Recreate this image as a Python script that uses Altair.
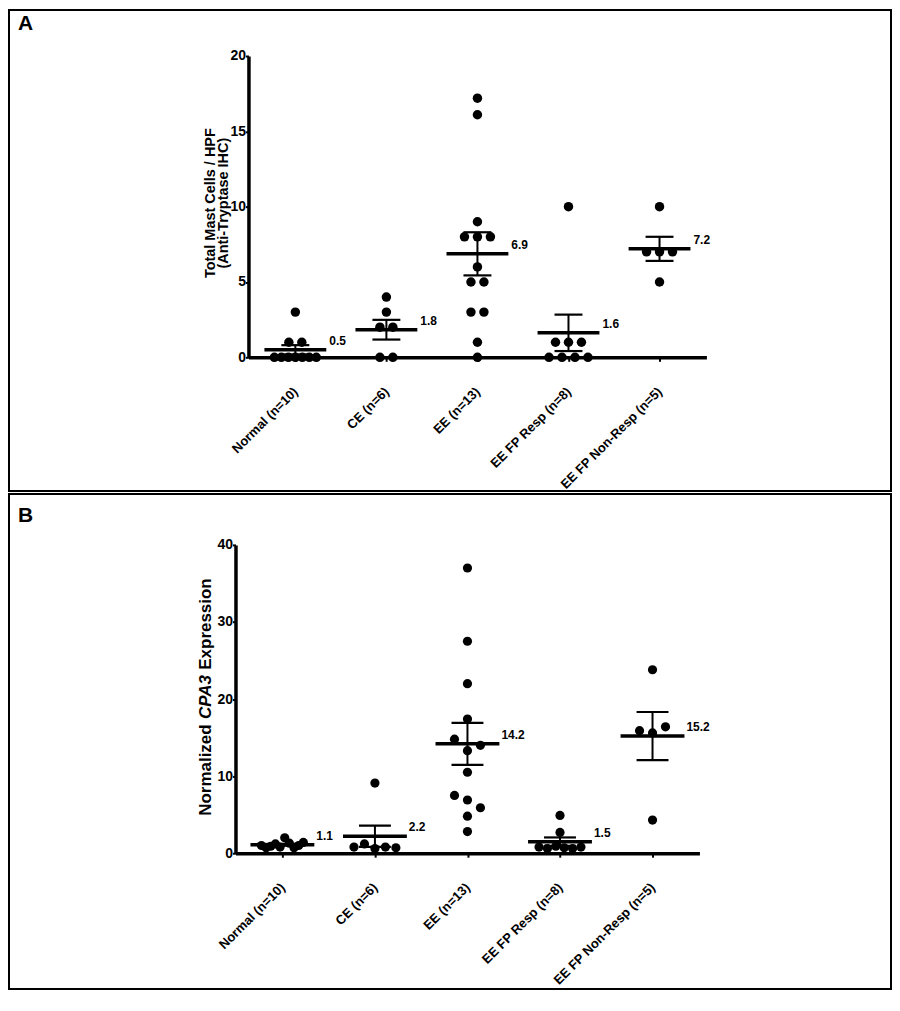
import json
import numpy as np
import pandas as pd
import altair as alt

# ---------------- data ----------------
categories = ["Normal (n=10)", "CE (n=6)", "EE (n=13)", "EE FP Resp (n=8)", "EE FP Non-Resp (n=5)"]

# Panel A: total mast cells / HPF (anti-tryptase IHC)
mast_normal = [0, 0, 0, 0, 0, 0, 0, 1, 1, 3]
mast_ce = [0, 0, 2, 2, 3, 4]
mast_ee = [17.2, 16.1, 9, 8, 8, 8, 6, 5, 5, 3, 3, 1, 0]
mast_resp = [10, 1, 1, 1, 0, 0, 0, 0]
mast_nonresp = [10, 7, 7, 7, 5]

# Panel B: normalized CPA3 expression
cpa3_normal = [1.0, 0.7, 0.9, 1.2, 0.8, 2.0, 1.3, 0.7, 1.0, 1.4]
cpa3_ce = [0.8, 1.2, 0.6, 0.8, 0.7, 9.1]
cpa3_ee = [37.0, 27.5, 22.0, 17.4, 14.8, 13.3, 14.0, 10.5, 7.5, 6.9, 5.9, 4.8, 2.8]
cpa3_resp = [4.9, 2.7, 0.8, 0.6, 0.9, 0.7, 0.6, 0.8]
cpa3_nonresp = [23.8, 15.9, 15.6, 16.4, 4.3]

ticks_a = [0, 5, 10, 15, 20]
ticks_b = [0, 10, 20, 30, 40]

FONT = "Liberation Sans"
W = 884


def spread(values, ppy, thr=8.0, step=13.0, maxspan=42.0):
    """Horizontal offsets (px) for points that would overlap vertically."""
    vals = np.asarray(values, float)
    order = np.argsort(-vals, kind="stable")
    clusters, cur = [], [order[0]]
    for a, b in zip(order[:-1], order[1:]):
        if (vals[a] - vals[b]) * ppy < thr:
            cur.append(b)
        else:
            clusters.append(cur)
            cur = [b]
    clusters.append(cur)
    off = np.zeros(len(vals))
    for c in clusters:
        c = sorted(c)
        n = len(c)
        if n > 1:
            s = min(step, maxspan / (n - 1))
            for k, i in enumerate(c):
                off[i] = (k - (n - 1) / 2) * s
    return off


def panel(groups, yticks, ydom, yrange, xdom, xrange, H, dot, cap_half, mean_half, lab_dx, texts):
    ppx = (xrange[1] - xrange[0]) / (xdom[1] - xdom[0])
    ppy = (yrange[0] - yrange[1]) / (ydom[1] - ydom[0])
    pts, summ, caps = [], [], []
    for i, vals in enumerate(groups):
        off = spread(vals, ppy)
        for v, o in zip(vals, off):
            pts.append({"x": i + o / ppx, "v": v})
        arr = np.asarray(vals, float)
        m = arr.mean()
        sem = arr.std(ddof=1) / np.sqrt(len(arr))
        summ.append({"idx": i, "mean": m, "lo": m - sem, "hi": m + sem,
                     "ml": i - mean_half / ppx, "mr": i + mean_half / ppx,
                     "lx": i + lab_dx / ppx, "label": f"{m:.1f}"})
        for yv in (m - sem, m + sem):
            caps.append({"cl": i - cap_half / ppx, "cr": i + cap_half / ppx, "cy": yv})
    pts, summ, caps = pd.DataFrame(pts), pd.DataFrame(summ), pd.DataFrame(caps)

    xs = alt.Scale(domain=xdom, range=xrange, nice=False, zero=False)
    ys = alt.Scale(domain=ydom, range=yrange, nice=False, zero=False)
    label_expr = "%s[datum.value]" % json.dumps(categories)
    xaxis = alt.Axis(values=[0, 1, 2, 3, 4], labelExpr=label_expr, offset=yrange[0] - H,
                     labelAngle=-45, labelAlign="right", labelBaseline="middle", labelPadding=28,
                     labelFont=FONT, labelFontSize=13, labelFontWeight="bold", labelColor="black",
                     tickSize=4, tickWidth=2, tickColor="black", domainWidth=3.5, domainColor="black",
                     grid=False, title=None, labelFlush=False, labelOverlap=False)
    yaxis = alt.Axis(values=yticks, offset=-xrange[0], labelFont=FONT, labelFontSize=14,
                     labelFontWeight="bold", labelColor="black", labelPadding=0,
                     tickSize=3, tickWidth=2, tickColor="black", domainWidth=3.5, domainColor="black",
                     grid=False, title=None, labelFlush=False, labelOverlap=False)

    points = alt.Chart(pts).mark_circle(size=dot, color="black", opacity=1).encode(
        x=alt.X("x:Q", scale=xs, axis=xaxis), y=alt.Y("v:Q", scale=ys, axis=yaxis))
    meanline = alt.Chart(summ).mark_rule(color="black", strokeWidth=3.5).encode(
        x=alt.X("ml:Q", scale=xs, axis=xaxis), x2="mr:Q", y=alt.Y("mean:Q", scale=ys, axis=yaxis))
    errbar = alt.Chart(summ).mark_rule(color="black", strokeWidth=2).encode(
        x=alt.X("idx:Q", scale=xs, axis=xaxis), y=alt.Y("lo:Q", scale=ys, axis=yaxis), y2="hi:Q")
    capl = alt.Chart(caps).mark_rule(color="black", strokeWidth=2.2).encode(
        x=alt.X("cl:Q", scale=xs, axis=xaxis), x2="cr:Q", y=alt.Y("cy:Q", scale=ys, axis=yaxis))
    labels = alt.Chart(summ).mark_text(align="left", baseline="middle", dy=-9, font=FONT,
                                       fontSize=12, fontWeight="bold", color="black").encode(
        x=alt.X("lx:Q", scale=xs, axis=xaxis), y=alt.Y("mean:Q", scale=ys, axis=yaxis), text="label:N")

    layers = [errbar, capl, meanline, points, labels]
    for t in texts:
        kw = dict(t["style"])
        layers.append(alt.Chart(pd.DataFrame({"t": [0]})).mark_text(
            font=FONT, color="black", text=t["text"], **kw).encode(
            x=alt.value(t["x"]), y=alt.value(t["y"])))
    return alt.layer(*layers).properties(width=W, height=H)


HA = 482
HB = 496

texts_a = [
    {"text": "A", "x": 9, "y": 20, "style": {"fontSize": 21, "fontWeight": "bold", "align": "left", "baseline": "alphabetic"}},
    {"text": ["Total Mast Cells / HPF", "(Anti-Tryptase IHC)"], "x": 202, "y": 193.5,
     "style": {"fontSize": 14.5, "fontWeight": "bold", "angle": 270, "align": "center", "baseline": "middle", "lineHeight": 13}},
]
panel_a = panel([mast_normal, mast_ce, mast_ee, mast_resp, mast_nonresp], ticks_a, [0, 20], [348, 46],
                [-0.515, 4.515], [240, 699], HA, 90, 14, 31, 34, texts_a)

yc = 203.5
texts_b = [
    {"text": "B", "x": 9, "y": 28, "style": {"fontSize": 21, "fontWeight": "bold", "align": "left", "baseline": "alphabetic"}},
    {"text": "Normalized", "x": 197, "y": yc + 27.4, "style": {"fontSize": 17, "fontWeight": "bold", "angle": 270, "align": "right", "baseline": "middle"}},
    {"text": "CPA3", "x": 197, "y": yc, "style": {"fontSize": 17, "fontWeight": "bold", "fontStyle": "italic", "angle": 270, "align": "center", "baseline": "middle"}},
    {"text": "Expression", "x": 197, "y": yc - 27.4, "style": {"fontSize": 17, "fontWeight": "bold", "angle": 270, "align": "left", "baseline": "middle"}},
]
panel_b = panel([cpa3_normal, cpa3_ce, cpa3_ee, cpa3_resp, cpa3_nonresp], ticks_b, [0, 40], [360, 51],
                [-0.507, 4.507], [227, 692], HB, 85, 16, 32, 34, texts_b)

chart = alt.vconcat(panel_a, panel_b, spacing=0).properties(
    padding=0, background="white"
).configure_view(stroke="black", strokeWidth=2, fill="white")

chart.save("out.html", embed_options={"renderer": "svg", "actions": False})
